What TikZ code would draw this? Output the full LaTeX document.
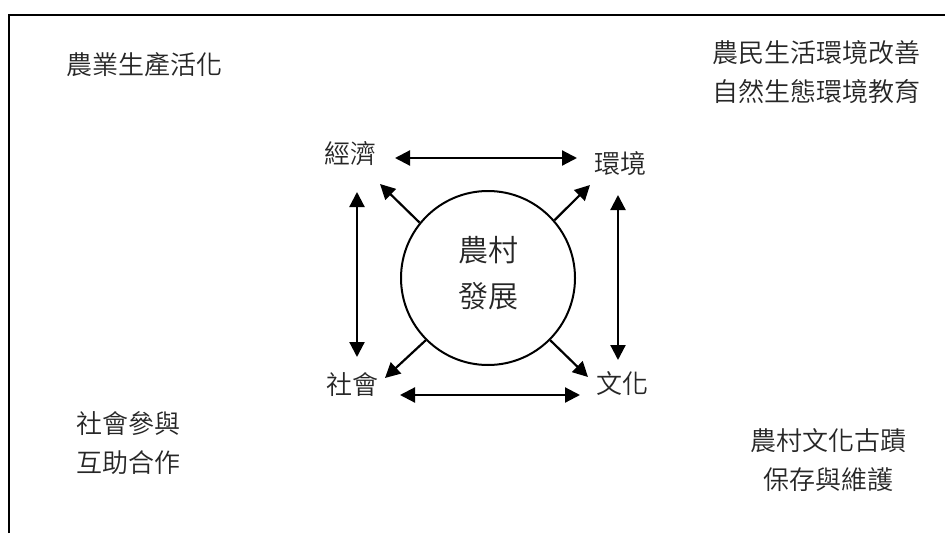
\documentclass[tikz,border=0pt]{standalone}
\usepackage{fontspec}
\newfontfamily\cjk{Noto Sans CJK TC DemiLight}
\usetikzlibrary{arrows.meta}
\begin{document}
\begin{tikzpicture}[x=1pt,y=-1pt,
  lbl/.style={font=\cjk\fontsize{26}{39}\selectfont, text=black!85, align=center, inner sep=0pt},
  word/.style={font=\cjk\fontsize{26}{30}\selectfont, text=black!85, inner sep=0pt},
  arr/.style={line width=2.2pt, -{Triangle[length=15pt,width=15pt]}},
  darr/.style={line width=2.2pt, {Triangle[length=15pt,width=15pt]}-{Triangle[length=15pt,width=15pt]}}]
\useasboundingbox (0,0) rectangle (945,533);
% frame
\draw[line width=2pt] (9,533) -- (9,15) -- (945,15);
% corner texts
\node[lbl] (t1) at (144,65) {農業生產活化};
\node[lbl] (t2) at (816,72) {農民生活環境改善\\自然生態環境教育};
\node[lbl] (t3) at (128,443) {社會參與\\互助合作};
\node[lbl] (t4) at (828,460) {農村文化古蹟\\保存與維護};
% centre
\node[circle, draw, line width=2pt, minimum size=174pt, inner sep=0pt] (c) at (488,278) {};
\node[align=center, inner sep=0pt, font=\cjk\fontsize{30}{46}\selectfont, text=black!85] (ct) at (488,273) {農村\\發展};
% four words
\node[word] (jj) at (350,154) {經濟};
\node[word] (hj) at (620,164) {環境};
\node[word] (sh) at (352,385) {社會};
\node[word] (wh) at (622,384) {文化};
% double arrows
\draw[darr] ([shift={(45,4)}]jj.center) -- ([shift={(-43,-6)}]hj.center);
\draw[darr] ([shift={(48,10)}]sh.center) -- ([shift={(-42,11)}]wh.center);
\draw[darr] ([shift={(7,38)}]jj.center) -- ([shift={(5,-28)}]sh.center);
\draw[darr] ([shift={(-2,31)}]hj.center) -- ([shift={(-4,-24)}]wh.center);
% radial arrows
\draw[arr] (c.141) -- ([shift={(30,30)}]jj.center);
\draw[arr] (c.41) -- ([shift={(-30,21)}]hj.center);
\draw[arr] (c.-135) -- ([shift={(33,-7)}]sh.center);
\draw[arr] (c.-45) -- ([shift={(-34,-7)}]wh.center);
\end{tikzpicture}
\end{document}
